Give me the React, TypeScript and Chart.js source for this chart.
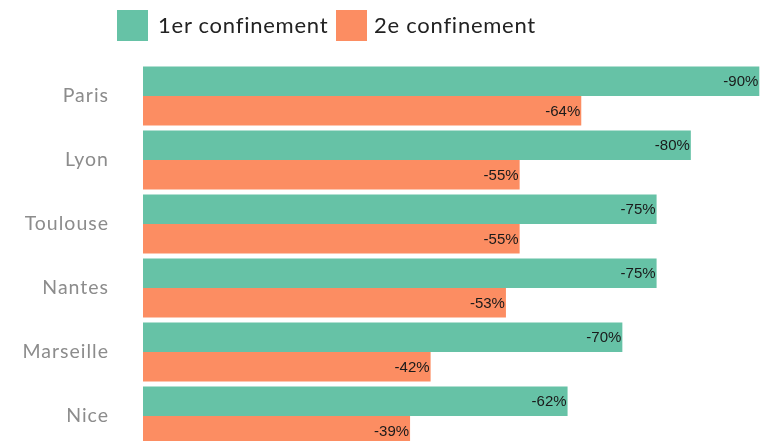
import React, { useEffect, useRef } from "react";
import { Chart, registerables } from "chart.js";

Chart.register(...registerables);

const cities = ["Paris", "Lyon", "Toulouse", "Nantes", "Marseille", "Nice"];
const firstLockdown = [90, 80, 75, 75, 70, 62];
const secondLockdown = [64, 55, 55, 53, 42, 39];
const seriesNames = ["1er confinement", "2e confinement"];
const colors = ["#66c2a6", "#fc8d62"];

const spacing = {
  id: "spacing",
  beforeDraw(chart: any) {
    chart.ctx.letterSpacing = "1px";
  },
};

const valueLabels = {
  id: "valueLabels",
  afterDatasetsDraw(chart: any) {
    const ctx = chart.ctx;
    ctx.save();
    ctx.letterSpacing = "0px";
    ctx.font = "15px 'Liberation Sans', Arial, sans-serif";
    ctx.fillStyle = "#1a1a1a";
    ctx.textAlign = "right";
    ctx.textBaseline = "middle";
    chart.data.datasets.forEach((ds: any, i: number) => {
      const meta = chart.getDatasetMeta(i);
      meta.data.forEach((bar: any, j: number) => {
        ctx.fillText("-" + ds.data[j] + "%", bar.x - 1, bar.y + 1);
      });
    });
    ctx.restore();
  },
};

export default function App() {
  const ref = useRef<HTMLCanvasElement>(null);
  useEffect(() => {
    document.body.style.margin = "0";
    const chart = new Chart(ref.current!, {
      type: "bar",
      data: {
        labels: cities,
        datasets: [
          { label: seriesNames[0], data: firstLockdown, backgroundColor: colors[0] },
          { label: seriesNames[1], data: secondLockdown, backgroundColor: colors[1] },
        ],
      },
      options: {
        indexAxis: "y",
        animation: false,
        responsive: false,
        layout: { padding: { top: 64, bottom: 4, left: 0, right: 0 } },
        datasets: { bar: { categoryPercentage: 0.92, barPercentage: 1.0 } },
        plugins: { legend: { display: false }, tooltip: { enabled: false } },
        scales: {
          x: { display: false, min: 0, max: 90.1 },
          y: {
            grid: { display: false, drawTicks: false },
            border: { display: false },
            ticks: {
              padding: 34,
              color: "#8c8c8c",
              font: { family: "Lato, 'Noto Sans', sans-serif", size: 19.5 },
            },
            afterFit: (s: any) => {
              s.width = 143;
              s.paddingTop = 0;
              s.paddingBottom = 0;
            },
          },
        },
      },
      plugins: [spacing, valueLabels],
    });
    return () => chart.destroy();
  }, []);

  const legendText: React.CSSProperties = {
    position: "absolute",
    top: 8,
    fontFamily: "Lato, 'Noto Sans', sans-serif",
    fontSize: 22,
    letterSpacing: "0.75px",
    color: "#222",
    lineHeight: "34px",
    whiteSpace: "nowrap",
  };
  const box = (left: number, color: string): React.CSSProperties => ({
    position: "absolute",
    left,
    top: 10,
    width: 31,
    height: 31,
    background: color,
  });

  return (
    <div style={{ position: "relative", width: 760, height: 441, overflow: "hidden", background: "#fff" }}>
      <canvas ref={ref} width={760} height={452} style={{ display: "block" }} />
      <div style={box(117, colors[0])} />
      <div style={{ ...legendText, left: 158 }}>{seriesNames[0]}</div>
      <div style={box(336, colors[1])} />
      <div style={{ ...legendText, left: 374 }}>{seriesNames[1]}</div>
    </div>
  );
}
